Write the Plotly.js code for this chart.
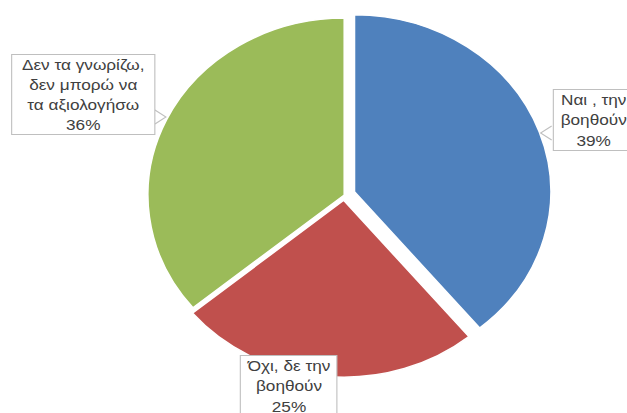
<!DOCTYPE html>
<html>
<head>
<meta charset="utf-8">
<script src="https://cdn.plot.ly/plotly-3.0.1.min.js"></script>
<style>
  html, body { margin: 0; padding: 0; background: #ffffff; overflow: hidden; }
  #wrap { width: 627px; height: 413px; overflow: hidden; }
  #chart { width: 565px; height: 413px; transform: scaleX(1.11); transform-origin: 0 0; }
</style>
</head>
<body>
<div id="wrap"><div id="chart"></div></div>
<script>
// ---- data ----
var categories = ["Ναι , την βοηθούν", "Όχι, δε την βοηθούν", "Δεν τα γνωρίζω, δεν μπορώ να τα αξιολογήσω"];
var labelLines = [
  ["Ναι , την", "βοηθούν"],
  ["Όχι, δε την", "βοηθούν"],
  ["Δεν τα γνωρίζω,", "δεν μπορώ να", "τα αξιολογήσω"]
];
var values = [39, 25, 36];
var colors = ["#4F81BD", "#C0504D", "#9BBB59"];
var pulls = [0.055, 0.03, 0];

// ---- label box placement (paper coords, layout only) ----
var boxPos = [
  {x: 534.5 / 565, y: 1 - 119.5 / 413, w: 72, h: 60},
  {x: 260.4 / 565, y: 1 - 386 / 413, w: 86, h: 60},
  {x: 74.8 / 565, y: 1 - 95 / 413, w: 128, h: 79}
];

var total = values.reduce(function (a, b) { return a + b; }, 0);
var annotations = categories.map(function (c, i) {
  var pct = Math.round(values[i] / total * 100) + "%";
  return {
    xref: "paper", yref: "paper",
    x: boxPos[i].x, y: boxPos[i].y,
    xanchor: "center", yanchor: "middle",
    text: labelLines[i].concat([pct]).join("<br>"),
    showarrow: false,
    align: "center",
    width: boxPos[i].w, height: boxPos[i].h,
    bgcolor: "#ffffff",
    bordercolor: "#bfbfbf",
    borderwidth: 1,
    borderpad: 0,
    font: {family: "Liberation Sans, Arial, sans-serif", size: 15.5, color: "#404040"}
  };
});

function px(x) { return x / 565; }
function py(y) { return 1 - y / 413; }
var shapes = [
  {type: "path", xref: "paper", yref: "paper",
   path: "M " + px(139.6) + "," + py(110) + " L " + px(149.5) + "," + py(117) + " L " + px(139.6) + "," + py(124),
   line: {color: "#bfbfbf", width: 1}, fillcolor: "rgba(0,0,0,0)", layer: "above"},
  {type: "path", xref: "paper", yref: "paper",
   path: "M " + px(497) + "," + py(126) + " L " + px(487) + "," + py(133) + " L " + px(497) + "," + py(140),
   line: {color: "#bfbfbf", width: 1}, fillcolor: "rgba(0,0,0,0)", layer: "above"}
];

var trace = {
  type: "pie",
  labels: categories,
  values: values,
  sort: false,
  direction: "clockwise",
  rotation: 0,
  pull: pulls,
  marker: {colors: colors, line: {color: "#ffffff", width: 1.5}},
  textinfo: "none",
  hoverinfo: "label+percent",
  domain: {x: [0.2185, 0.8794], y: [0.0758, 0.9799]},
  showlegend: false
};

var layout = {
  width: 565, height: 413,
  margin: {l: 0, r: 0, t: 0, b: 0},
  paper_bgcolor: "#ffffff",
  plot_bgcolor: "#ffffff",
  showlegend: false,
  annotations: annotations,
  shapes: shapes
};

Plotly.newPlot("chart", [trace], layout, {displayModeBar: false, staticPlot: true});
</script>
</body>
</html>
